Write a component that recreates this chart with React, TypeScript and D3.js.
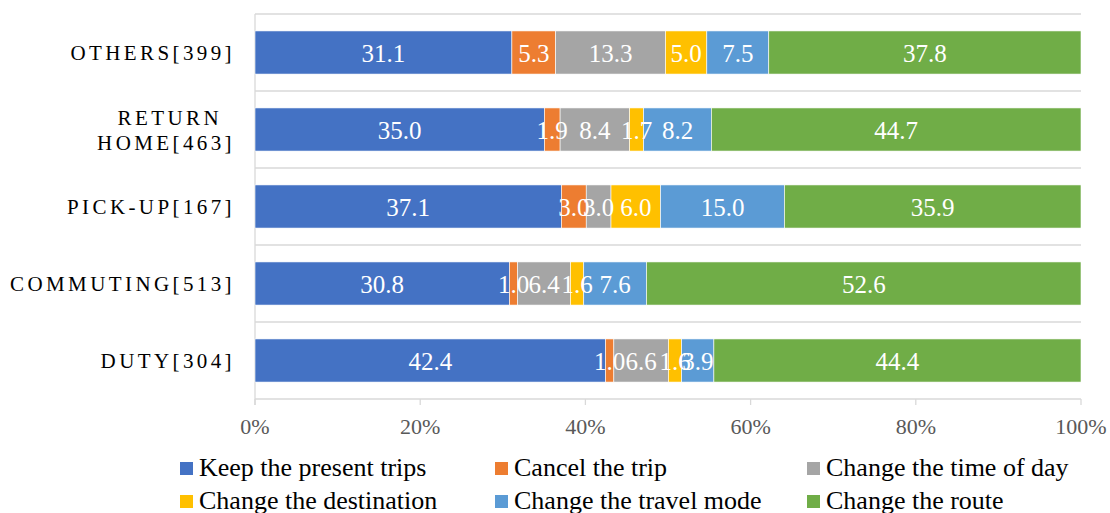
import React from "react";
import * as d3 from "d3";

// Trip purposes (sample size in brackets), top to bottom
const categories = ["OTHERS[399]", "RETURN\nHOME[463]", "PICK-UP[167]", "COMMUTING[513]", "DUTY[304]"];

const seriesNames = [
  "Keep the present trips",
  "Cancel the trip",
  "Change the time of day",
  "Change the destination",
  "Change the travel mode",
  "Change the route",
];

const seriesColors = ["#4472C4", "#ED7D31", "#A5A5A5", "#FFC000", "#5B9BD5", "#70AD47"];

// Share (%) of each response, one array per trip purpose in category order
const othersValues = [31.1, 5.3, 13.3, 5.0, 7.5, 37.8];
const returnHomeValues = [35.0, 1.9, 8.4, 1.7, 8.2, 44.7];
const pickUpValues = [37.1, 3.0, 3.0, 6.0, 15.0, 35.9];
const commutingValues = [30.8, 1.0, 6.4, 1.6, 7.6, 52.6];
const dutyValues = [42.4, 1.0, 6.6, 1.6, 3.9, 44.4];

const xTicks = [0, 0.2, 0.4, 0.6, 0.8, 1.0];

const W = 1110;
const H = 513;
const margin = { left: 255, right: 29, top: 14, bottom: 114 };
const SERIF = "Liberation Serif, Tinos, Times New Roman, serif";

export default function App() {
  const rowsValues = [othersValues, returnHomeValues, pickUpValues, commutingValues, dutyValues];
  const keys = seriesNames.map((_, i) => `s${i}`);
  const table = categories.map((c, r) => {
    const total = d3.sum(rowsValues[r]);
    const row: Record<string, any> = { category: c };
    rowsValues[r].forEach((v, i) => {
      row[`s${i}`] = v / total;
      row[`v${i}`] = v;
    });
    return row;
  });

  const stack = d3.stack<Record<string, any>>().keys(keys);
  const layers = stack(table);

  const x = d3.scaleLinear().domain([0, 1]).range([margin.left, W - margin.right]);
  const y = d3
    .scaleBand<string>()
    .domain(categories)
    .range([margin.top, H - margin.bottom])
    .paddingInner(0.44)
    .paddingOuter(0.22);

  const step = y.step();
  const plotTop = margin.top;
  const plotBottom = H - margin.bottom;
  const gridColor = "#d9d9d9";
  const fmt = d3.format(".1f");
  const pct = d3.format(".0%");

  // Horizontal separators at band boundaries
  const boundaries = d3.range(categories.length + 1).map((i) => plotTop + i * step);

  const legendCols = [180, 495, 807];
  const legendRows = [476, 509];

  return (
    <svg
      width={W}
      height={H}
      style={{ position: "absolute", left: 0, top: 0, background: "#fff", fontFamily: SERIF }}
    >
      {boundaries.map((b, i) => (
        <line key={`h${i}`} x1={x(0)} x2={x(1)} y1={b} y2={b} stroke={gridColor} strokeWidth={1.3} />
      ))}
      <line x1={x(0)} x2={x(0)} y1={plotTop} y2={plotBottom + 6} stroke={gridColor} strokeWidth={1.3} />
      {xTicks.map((t) => (
        <g key={`t${t}`}>
          <line x1={x(t)} x2={x(t)} y1={plotBottom} y2={plotBottom + 6} stroke={gridColor} strokeWidth={1.3} />
          <text x={x(t)} y={434} textAnchor="middle" fontSize={22} fill="#595959">
            {pct(t)}
          </text>
        </g>
      ))}

      {/* segments */}
      {layers.map((layer, si) => (
        <g key={layer.key}>
          {layer.map((d) => {
            const cat = d.data.category as string;
            const x0 = x(d[0]);
            const x1 = x(d[1]);
            return (
              <rect
                key={cat}
                x={x0}
                y={y(cat)!}
                width={x1 - x0}
                height={y.bandwidth()}
                fill={seriesColors[si]}
                stroke="#ffffff"
                strokeWidth={0.6}
              />
            );
          })}
        </g>
      ))}

      {/* value labels drawn above every segment */}
      {layers.map((layer, si) => (
        <g key={`lab${layer.key}`}>
          {layer.map((d) => {
            const cat = d.data.category as string;
            const x0 = x(d[0]);
            const x1 = x(d[1]);
            return (
              <text
                key={cat}
                x={(x0 + x1) / 2}
                y={y(cat)! + y.bandwidth() / 2 + 9}
                textAnchor="middle"
                fontSize={25}
                fill="#ffffff"
              >
                {fmt(d.data[`v${si}`])}
              </text>
            );
          })}
        </g>
      ))}

      {categories.map((c) => {
        const lines = c.split("\n");
        const cy = y(c)! + y.bandwidth() / 2;
        const lh = 25;
        return (
          <text key={c} textAnchor="end" fontSize={21} letterSpacing={3.4} fill="#000">
            {lines.map((ln, li) => (
              <tspan
                key={li}
                x={li < lines.length - 1 ? 222 : 235}
                y={cy + 7.5 + (li - (lines.length - 1) / 2) * lh}
              >
                {ln}
              </tspan>
            ))}
          </text>
        );
      })}

      {seriesNames.map((name, i) => {
        const col = i % 3;
        const row = Math.floor(i / 3);
        const lx = legendCols[col];
        const ly = legendRows[row];
        return (
          <g key={name}>
            <rect x={lx} y={ly - 14} width={13} height={13} fill={seriesColors[i]} />
            <text x={lx + 19} y={ly} fontSize={26} fill="#000">
              {name}
            </text>
          </g>
        );
      })}
    </svg>
  );
}
